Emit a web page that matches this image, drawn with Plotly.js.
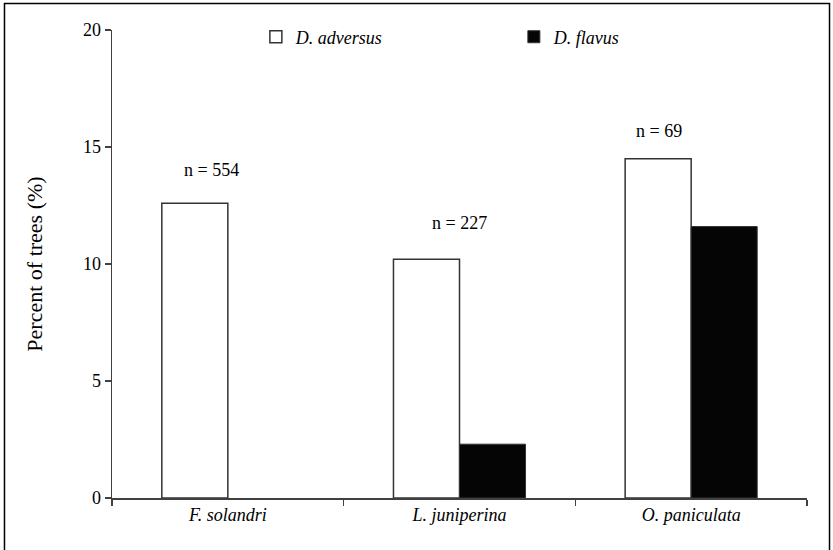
<!DOCTYPE html>
<html>
<head>
<meta charset="utf-8">
<script src="https://cdn.plot.ly/plotly-3.0.1.min.js"></script>
<style>html,body{margin:0;padding:0;background:#fff;}#chart{width:833px;height:550px;}</style>
</head>
<body>
<div id="chart"></div>
<script>
var categories = ['<i>F. solandri</i>', '<i>L. juniperina</i>', '<i>O. paniculata</i>'];
var adversus = [12.6, 10.2, 14.5];
var flavus = [null, 2.3, 11.6];
var seriesNames = ['<i>D. adversus</i>', '<i>D. flavus</i>'];
var sampleLabels = ['n = 554', 'n = 227', 'n = 69'];
var sampleY = [14.0, 11.75, 15.7];
var sampleOffset = [-0.07, 0, -0.14];
var yTicks = [0, 5, 10, 15, 20];

var traces = [
  {type: 'bar', name: seriesNames[0], x: categories, y: adversus,
   marker: {color: '#ffffff', line: {color: '#333333', width: 1.5}}},
  {type: 'bar', name: seriesNames[1], x: categories, y: flavus,
   marker: {color: '#050505', line: {color: '#333333', width: 1}}}
];
var annotations = sampleLabels.map(function (t, i) {
  return {x: i + sampleOffset[i], y: sampleY[i], xref: 'x', yref: 'y', text: t, showarrow: false};
});
var layout = {
  width: 833, height: 550,
  margin: {l: 112, r: 26, t: 30, b: 52},
  paper_bgcolor: '#fff', plot_bgcolor: '#fff',
  barmode: 'group', bargap: 0.43, bargroupgap: 0,
  font: {family: 'Liberation Serif', size: 18, color: '#000'},
  showlegend: true,
  legend: {orientation: 'h', x: 0.207, y: 0.985, xanchor: 'left', yanchor: 'middle',
           entrywidth: 213, bgcolor: 'rgba(0,0,0,0)'},
  xaxis: {showline: true, linecolor: '#404040', linewidth: 1.5, ticks: 'outside',
          tickson: 'boundaries', ticklen: 6, tickcolor: '#404040', tickwidth: 1.5,
          showgrid: false, zeroline: false},
  yaxis: {range: [0, 20], tickvals: yTicks, ticktext: yTicks.map(String),
          showline: true, linecolor: '#404040', linewidth: 1.5, ticks: 'outside',
          ticklen: 6, tickcolor: '#404040', tickwidth: 1.5, showgrid: false, zeroline: false,
          title: {text: 'Percent of trees (%)', standoff: 34}},
  annotations: annotations,
  shapes: [{type: 'rect', xref: 'paper', yref: 'paper', x0: -0.1547, x1: 1.0324,
            y0: -0.115, y1: 1.0566, line: {color: '#000', width: 1.5}, fillcolor: 'rgba(0,0,0,0)'}]
};
Plotly.newPlot('chart', traces, layout, {displayModeBar: false, staticPlot: true});
</script>
</body>
</html>
